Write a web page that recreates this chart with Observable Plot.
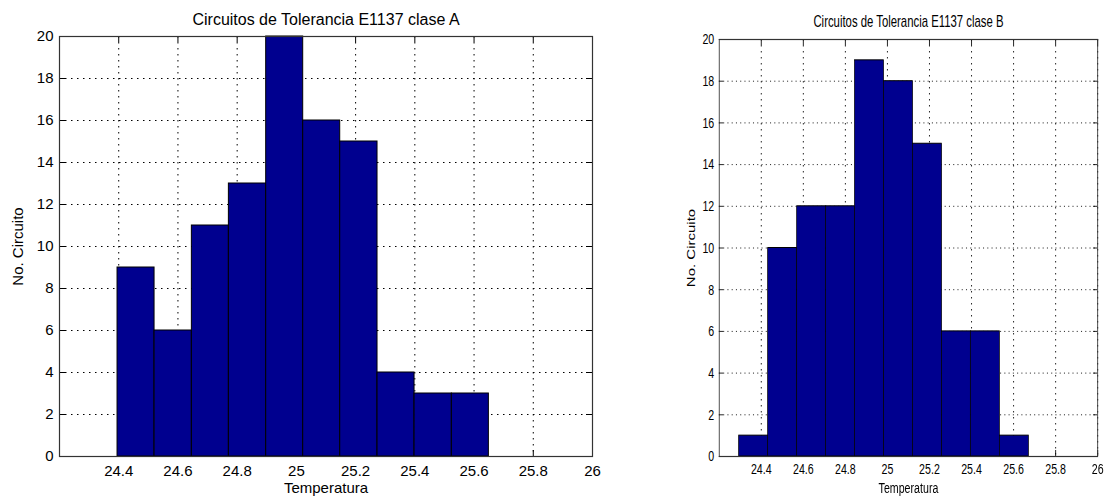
<!DOCTYPE html>
<html>
<head>
<meta charset="utf-8">
<script src="https://cdn.jsdelivr.net/npm/d3@7"></script>
<script src="https://cdn.jsdelivr.net/npm/@observablehq/plot@0.6"></script>
<style>
  html, body { margin: 0; padding: 0; background: #fff; }
  #wrap { position: relative; width: 1104px; height: 496px; overflow: hidden; background: #fff; }
  .panel { position: absolute; top: 0; }
  .panel svg { max-width: none !important; overflow: visible; }
  #panelA { left: 0px; width: 620px; }
  #panelB { left: 677.4px; width: 601px; transform: scaleX(0.71); transform-origin: 0 0; }
</style>
</head>
<body>
<div id="wrap">
  <div class="panel" id="panelA"></div>
  <div class="panel" id="panelB"></div>
</div>
<script>
// ---- data ----
const xTicks = [24.4, 24.6, 24.8, 25, 25.2, 25.4, 25.6, 25.8, 26];
const yTicks = [0, 2, 4, 6, 8, 10, 12, 14, 16, 18, 20];
const xDomain = [24.2, 26];
const yDomain = [0, 20];

const titleA = "Circuitos de Tolerancia E1137 clase A";
const edgesA = [24.396, 24.521, 24.647, 24.772, 24.898, 25.023, 25.148, 25.274, 25.399, 25.525, 25.650];
const countsA = [9, 6, 11, 13, 20, 16, 15, 4, 3, 3];

const titleB = "Circuitos de Tolerancia E1137 clase B";
const edgesB = [24.294, 24.432, 24.570, 24.707, 24.845, 24.983, 25.121, 25.259, 25.396, 25.534, 25.672];
const countsB = [1, 10, 12, 12, 19, 18, 15, 6, 6, 1];

const xLabel = "Temperatura";
const yLabel = "No. Circuito";

// ---- drawing ----
const FONT = "'Liberation Sans', Arial, Helvetica, sans-serif";

function panel({title, edges, counts, width, marginLeft, marginRight, marginTop, marginBottom,
                titleDy, yLabelDx, xLabelDy, xPad, yPad}) {
  const height = 496;
  const innerW = width - marginLeft - marginRight;
  const innerH = height - marginTop - marginBottom;
  const kx = (xDomain[1] - xDomain[0]) / innerW;  // data units per px
  const ky = (yDomain[1] - yDomain[0]) / innerH;
  const tick = 6;
  const rows = counts.map((c, i) => ({x1: edges[i], x2: edges[i + 1], y: c}));
  const dots = "1.5,4.5";
  return Plot.plot({
    width, height, marginLeft, marginRight, marginTop, marginBottom,
    style: {fontFamily: FONT, fontSize: "15px", background: "#fff", color: "#000"},
    x: {domain: xDomain},
    y: {domain: yDomain},
    marks: [
      Plot.gridX(xTicks, {stroke: "#000", strokeOpacity: 1, strokeDasharray: dots}),
      Plot.gridY(yTicks, {stroke: "#000", strokeOpacity: 1, strokeDasharray: dots}),
      // inward ticks on all four sides
      Plot.ruleX(xTicks, {x: d => d, y1: yDomain[0], y2: yDomain[0] + tick * ky, stroke: "#000"}),
      Plot.ruleX(xTicks, {x: d => d, y1: yDomain[1] - tick * ky, y2: yDomain[1], stroke: "#000"}),
      Plot.ruleY(yTicks, {y: d => d, x1: xDomain[0], x2: xDomain[0] + tick * kx, stroke: "#000"}),
      Plot.ruleY(yTicks, {y: d => d, x1: xDomain[1] - tick * kx, x2: xDomain[1], stroke: "#000"}),
      Plot.rectY(rows, {x1: "x1", x2: "x2", y: "y", fill: "#00008f", stroke: "#000", strokeWidth: 1}),
      Plot.frame({stroke: "#333", strokeWidth: 1.2}),
      Plot.axisX(xTicks, {anchor: "bottom", tickSize: 0, tickPadding: xPad, fontSize: 15,
                          label: null, tickFormat: d => String(d), fill: "#000"}),
      Plot.axisY(yTicks, {anchor: "left", tickSize: 0, tickPadding: yPad, fontSize: 15,
                          label: null, tickFormat: d => String(d), fill: "#000"}),
      Plot.text([title], {text: d => d, frameAnchor: "top", textAnchor: "middle", lineAnchor: "top",
                          dy: titleDy, fontSize: 16, fill: "#000"}),
      Plot.text([xLabel], {text: d => d, frameAnchor: "bottom", textAnchor: "middle", lineAnchor: "top",
                           dy: xLabelDy, fontSize: 15, fill: "#000"}),
      Plot.text([yLabel], {text: d => d, frameAnchor: "left", rotate: -90, textAnchor: "middle",
                           lineAnchor: "middle", dx: yLabelDx, fontSize: 15, fill: "#000"})
    ]
  });
}

document.getElementById("panelA").appendChild(panel({
  title: titleA, edges: edgesA, counts: countsA,
  width: 620, marginLeft: 59, marginRight: 28, marginTop: 36, marginBottom: 40,
  titleDy: -22.7, yLabelDx: -41, xLabelDy: 25.8, xPad: 9, yPad: 6
}));

document.getElementById("panelB").appendChild(panel({
  title: titleB, edges: edgesB, counts: countsB,
  width: 601, marginLeft: 59, marginRight: 9, marginTop: 39, marginBottom: 40,
  titleDy: -24, yLabelDx: -38.4, xLabelDy: 25.5, xPad: 7.3, yPad: 7
}));
</script>
</body>
</html>
